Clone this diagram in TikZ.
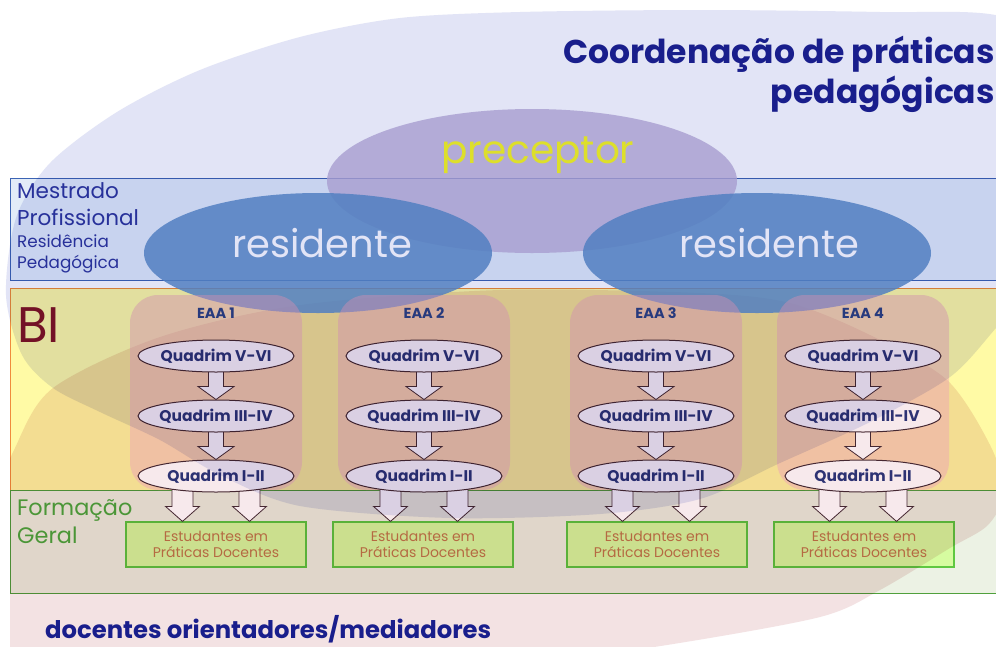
\documentclass[tikz,border=0pt]{standalone}
\usepackage{fontspec}
\setmainfont{Poppins}
\usetikzlibrary{shapes.geometric,calc,positioning}

\definecolor{lavfill}{RGB}{226,228,246}
\definecolor{pinkfill}{RGB}{243,226,227}
\definecolor{mestfill}{RGB}{226,236,248}
\definecolor{mestline}{RGB}{60,100,180}
\definecolor{bifill}{RGB}{255,250,165}
\definecolor{biline}{RGB}{240,140,60}
\definecolor{formfill}{RGB}{236,242,228}
\definecolor{formline}{RGB}{80,160,60}
\definecolor{estfill}{RGB}{214,252,160}
\definecolor{estline}{RGB}{95,200,65}
\definecolor{esttext}{RGB}{190,120,75}
\definecolor{eaafill}{RGB}{237,160,184}
\definecolor{eaatext}{RGB}{45,65,130}
\definecolor{quadfill}{RGB}{247,233,236}
\definecolor{quadline}{RGB}{70,40,50}
\definecolor{quadtext}{RGB}{45,50,115}
\definecolor{precfill}{RGB}{190,177,216}
\definecolor{prectext}{RGB}{250,250,45}
\definecolor{resfill}{RGB}{93,143,201}
\definecolor{navy}{RGB}{25,30,140}
\definecolor{bired}{RGB}{130,20,40}
\definecolor{mesttext}{RGB}{45,55,160}
\definecolor{formtext}{RGB}{75,150,55}

\pgfdeclarelayer{back}
\pgfdeclarelayer{arrows}
\pgfdeclarelayer{front}
\pgfsetlayers{back,arrows,main,front}

\tikzset{
  band/.style={rectangle, anchor=north west, inner sep=0pt, minimum width=1000pt, line width=1.2pt},
  estud/.style={rectangle, draw=estline, fill=estfill, line width=1.2pt, minimum width=180pt,
    minimum height=45pt, inner sep=0pt, align=center, text=esttext, font=\fontsize{14}{16.5}\selectfont},
  precep/.style={ellipse, fill=precfill, fill opacity=.8, minimum width=410pt, minimum height=144pt, inner sep=0pt},
  resid/.style={ellipse, fill=resfill, fill opacity=.85, minimum width=348pt, minimum height=120pt, inner sep=0pt},
  eaabox/.style={rectangle, rounded corners=28pt, fill=eaafill, fill opacity=.45, minimum width=172pt,
    minimum height=195pt, inner sep=0pt},
  eaalabel/.style={anchor=base, text=eaatext, inner sep=0pt, font=\fontsize{14.5}{16}\selectfont\bfseries},
  quadrim/.style={ellipse, draw=quadline, fill=quadfill, line width=1pt, minimum width=156pt,
    minimum height=32pt, inner xsep=-4pt, inner ysep=0pt, text=quadtext, font=\fontsize{15.5}{17}\selectfont\bfseries},
  blockarrow/.style n args={3}{draw=quadline, fill=quadfill, line width=.8pt, line join=miter,
    to path={let \p1=(\tikztostart), \p2=(\tikztotarget) in
      (\x1-#1,\y1+4pt) -- (\x1+#1,\y1+4pt) -- (\x1+#1,\y2+#3) -- (\x1+#2,\y2+#3) -- (\x1,\y2)
      -- (\x1-#2,\y2+#3) -- (\x1-#1,\y2+#3) -- cycle}},
  bigtext/.style={anchor=base, inner sep=0pt},
  sidetext/.style={anchor=base west, align=left, inner sep=0pt},
  title/.style={anchor=base east, inner sep=0pt, text=navy, font=\fontsize{33}{38}\selectfont\bfseries},
}

\begin{document}
\begin{tikzpicture}[x=1pt,y=-1pt]
\useasboundingbox (0,0) rectangle (996,646);

\begin{pgfonlayer}{back}
  \clip (0,0) rectangle (996,646);
  \fill[white] (0,0) rectangle (996,646);
  \node[band, draw=mestline, fill=mestfill, minimum height=102pt] (mestrado) at (10,178) {};
  \node[band, draw=biline, fill=bifill, minimum height=202pt] (bi) at (10,288) {};
  \node[band, draw=formline, fill=formfill, minimum height=103pt] (formacao) at (10,490) {};
  \foreach \i/\x in {1/216,2/423,3/657,4/864}
    \node[estud] (est\i) at (\x,544.5) {Estudantes em\\Práticas Docentes};
  \begin{scope}[blend mode=multiply]
    \clip (10,0) rectangle (1100,720);
    \fill[pinkfill] plot[smooth cycle] coordinates {(-10,520) (15,448) (53,388) (160,337) (300,305)
      (500,290) (700,293) (790,303) (870,335) (947,380) (990,445) (1004,492) (988,525) (950,548)
      (880,590) (820,617) (667,645) (500,668) (300,690) (100,710) (-30,700)};
  \end{scope}
  \node[precep] (prec) at (532,181) {};
  \node[resid] (res1) at (318,253) {};
  \node[resid] (res2) at (757,253) {};
  \foreach \i/\x in {1/216,2/424,3/656,4/863}
    \node[eaabox] (eaa\i) at (\x,392.5) {};
\end{pgfonlayer}

\node[bigtext, text=prectext, font=\fontsize{39}{42}\selectfont] (prectxt) at (538,163) {preceptor};
\node[bigtext, text=white, font=\fontsize{38.4}{42}\selectfont] (restxt1) at (322,257) {residente};
\node[bigtext, text=white, font=\fontsize{38.4}{42}\selectfont] (restxt2) at (769,257) {residente};

\node[sidetext, text=mesttext, font=\fontsize{21.5}{27}\selectfont] (mestlbl) at (17,225) {Mestrado\\Profissional};
\node[sidetext, text=mesttext, font=\fontsize{16.8}{21}\selectfont] (reslbl) at (17,268) {Residência\\Pedagógica};
\node[sidetext, text=bired, font=\fontsize{50}{50}\selectfont] (bilbl) at (17,342) {BI};
\node[sidetext, text=formtext, font=\fontsize{22.4}{28}\selectfont] (formlbl) at (17,543) {Formação\\Geral};

\foreach \i/\x in {1/216,2/424,3/656,4/863} {
  \node[eaalabel] (lbl\i) at (\x,318) {EAA \i};
  \node[quadrim] (qa\i) at (\x,356) {Quadrim V-VI};
  \node[quadrim] (qb\i) at (\x,416) {Quadrim III-IV};
  \node[quadrim] (qc\i) at (\x,476) {Quadrim I-II};
}

\begin{pgfonlayer}{arrows}
  \foreach \i in {1,...,4} {
    \draw[blockarrow={7.5pt}{18pt}{13pt}] (qa\i.south) to (qb\i.north);
    \draw[blockarrow={7.5pt}{18pt}{13pt}] (qb\i.south) to (qc\i.north);
    \draw[blockarrow={10.5pt}{17pt}{15pt}] (qc\i.-156) to (est\i.north);
    \draw[blockarrow={10.5pt}{17pt}{15pt}] (qc\i.-24) to (est\i.north);
  }
\end{pgfonlayer}

\begin{pgfonlayer}{front}
  \clip (0,0) rectangle (996,646);
  \begin{scope}[blend mode=multiply]
    \fill[lavfill] plot[smooth cycle] coordinates {(6,295) (16,218) (50,163) (117,112) (200,70)
      (300,37) (400,18) (520,12) (700,10) (880,12) (1000,16) (1075,60) (1090,170) (1045,270) (996,328)
      (950,377) (870,422) (780,463) (700,499) (600,514) (450,518) (300,506) (220,475) (160,440)
      (100,412) (53,388) (22,355)};
  \end{scope}
  \node[title] (titlea) at (995,63) {Coordenação de práticas};
  \node[title] (titleb) at (995,103) {pedagógicas};
  \node[anchor=base west, inner sep=0pt, text=navy, font=\fontsize{24.3}{28}\selectfont\bfseries]
    (docentes) at (45,638) {docentes orientadores/mediadores};
\end{pgfonlayer}
\end{tikzpicture}
\end{document}
